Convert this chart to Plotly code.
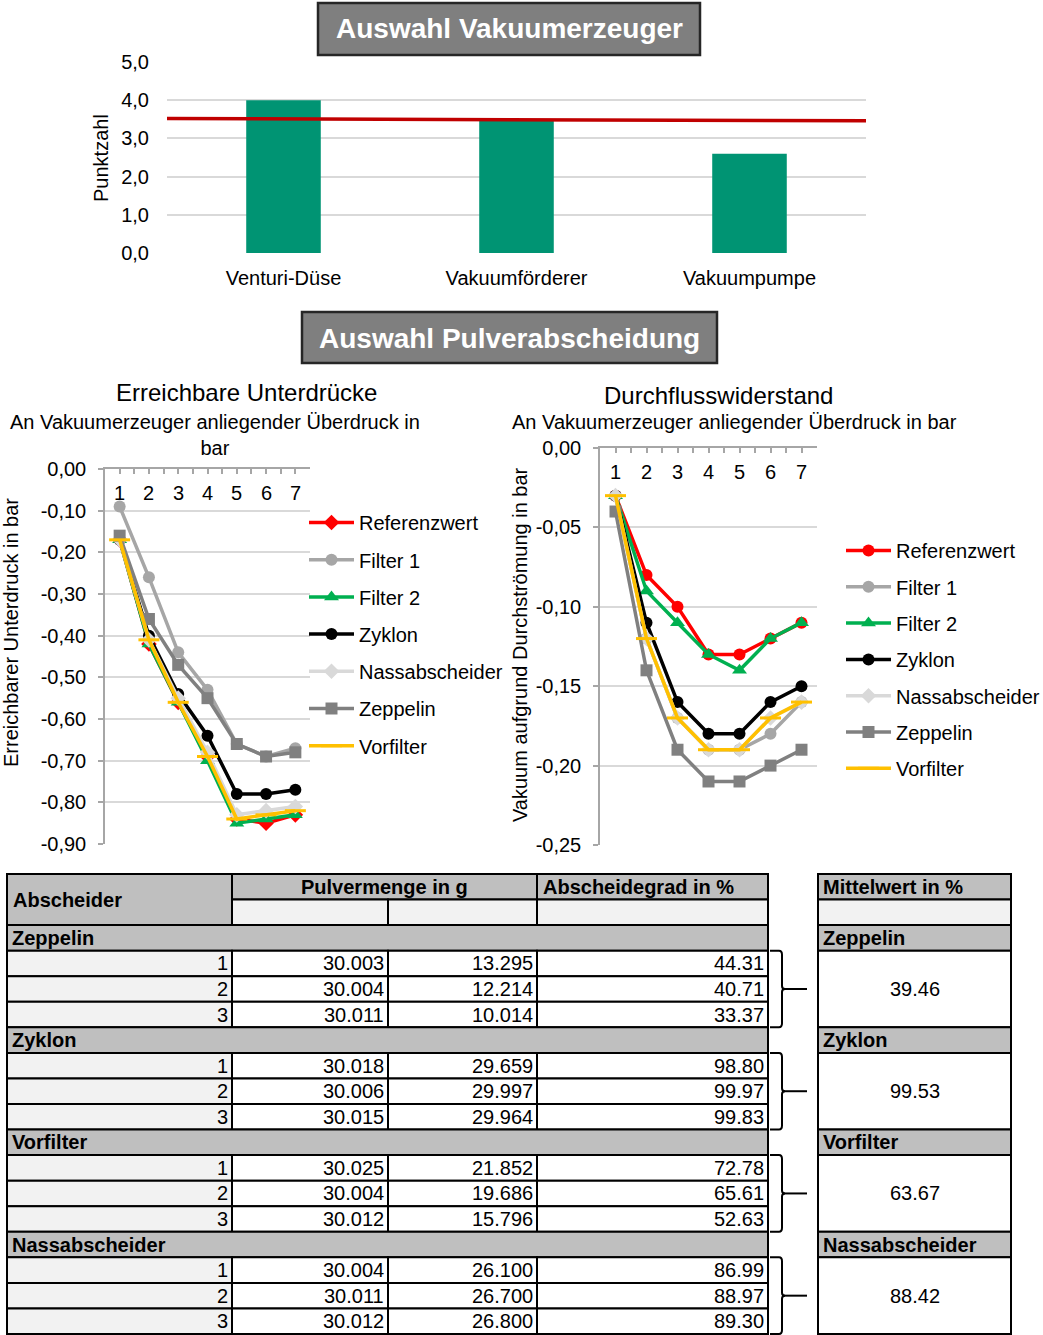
import plotly.graph_objects as go

W, H = 1043, 1335
FONT = "Liberation Sans, Arial, sans-serif"


def px(x):
    return x / W


def py(y):
    return 1 - y / H


# ---------- Auswahl Vakuumerzeuger ----------
erzeuger = ["Venturi-Düse", "Vakuumförderer", "Vakuumpumpe"]
punktzahl = [4.0, 3.5, 2.6]
grenzwert = [3.52, 3.46]

# ---------- Pulverabscheidung: Messstufen ----------
stufen = [1, 2, 3, 4, 5, 6, 7]
serien = ["Referenzwert", "Filter 1", "Filter 2", "Zyklon",
          "Nassabscheider", "Zeppelin", "Vorfilter"]

# Erreichbare Unterdrücke (bar)
ud_referenz = [-0.17, -0.42, -0.56, -0.69, -0.84, -0.85, -0.83]
ud_filter1 = [-0.09, -0.26, -0.44, -0.53, -0.66, -0.69, -0.67]
ud_filter2 = [-0.17, -0.42, -0.56, -0.70, -0.85, -0.84, -0.83]
ud_zyklon = [-0.17, -0.40, -0.54, -0.64, -0.78, -0.78, -0.77]
ud_nass = [-0.17, -0.41, -0.55, -0.68, -0.83, -0.82, -0.81]
ud_zeppelin = [-0.16, -0.36, -0.47, -0.55, -0.66, -0.69, -0.68]
ud_vorfilter = [-0.17, -0.41, -0.56, -0.69, -0.84, -0.83, -0.82]

# Durchflusswiderstand (bar)
dw_referenz = [-0.03, -0.08, -0.10, -0.13, -0.13, -0.12, -0.11]
dw_filter1 = [-0.03, -0.12, -0.17, -0.19, -0.19, -0.18, -0.16]
dw_filter2 = [-0.03, -0.09, -0.11, -0.13, -0.14, -0.12, -0.11]
dw_zyklon = [-0.03, -0.11, -0.16, -0.18, -0.18, -0.16, -0.15]
dw_nass = [-0.03, -0.12, -0.17, -0.19, -0.19, -0.17, -0.16]
dw_zeppelin = [-0.04, -0.14, -0.19, -0.21, -0.21, -0.20, -0.19]
dw_vorfilter = [-0.03, -0.12, -0.17, -0.19, -0.19, -0.17, -0.16]

# ---------- Tabelle Abscheidegrad ----------
abscheider = ["Zeppelin", "Zyklon", "Vorfilter", "Nassabscheider"]
versuch = [1, 2, 3]
pulver_zugabe = [[30.003, 30.004, 30.011],
                 [30.018, 30.006, 30.015],
                 [30.025, 30.004, 30.012],
                 [30.004, 30.011, 30.012]]
pulver_abgeschieden = [[13.295, 12.214, 10.014],
                       [29.659, 29.997, 29.964],
                       [21.852, 19.686, 15.796],
                       [26.100, 26.700, 26.800]]
abscheidegrad = [[44.31, 40.71, 33.37],
                 [98.80, 99.97, 99.83],
                 [72.78, 65.61, 52.63],
                 [86.99, 88.97, 89.30]]
mittelwert = [39.46, 99.53, 63.67, 88.42]

# series styles
farben = {"Referenzwert": "#FF0000", "Filter 1": "#A6A6A6", "Filter 2": "#00B050",
          "Zyklon": "#000000", "Nassabscheider": "#D9D9D9", "Zeppelin": "#808080",
          "Vorfilter": "#FFC000"}
symbole_links = {"Referenzwert": "diamond", "Filter 1": "circle", "Filter 2": "triangle-up",
                 "Zyklon": "circle", "Nassabscheider": "diamond", "Zeppelin": "square",
                 "Vorfilter": "line-ew"}
symbole_rechts = dict(symbole_links, Referenzwert="circle")

werte_links = [ud_referenz, ud_filter1, ud_filter2, ud_zyklon, ud_nass, ud_zeppelin, ud_vorfilter]
werte_rechts = [dw_referenz, dw_filter1, dw_filter2, dw_zyklon, dw_nass, dw_zeppelin, dw_vorfilter]


def komma(v, nd):
    if abs(v) < 1e-12:
        v = 0.0
    return f"{v:.{nd}f}".replace(".", ",")


fig = go.Figure()

# bar chart
fig.add_trace(go.Bar(x=list(range(len(erzeuger))), y=punktzahl, width=0.32,
                     marker=dict(color="#009473", line=dict(width=0)),
                     xaxis="x", yaxis="y", showlegend=False))
fig.add_trace(go.Scatter(x=[-0.5, 2.5], y=grenzwert, mode="lines",
                         line=dict(color="#C00000", width=3.5),
                         xaxis="x", yaxis="y", showlegend=False))


def marker_for(name, symbol):
    c = farben[name]
    if symbol == "line-ew":
        return dict(symbol=symbol, size=15, color=c, line=dict(color=c, width=3))
    size = 12 if symbol != "triangle-up" else 13
    return dict(symbol=symbol, size=size, color=c, line=dict(width=0))


for name, vals in zip(serien, werte_links):
    fig.add_trace(go.Scatter(x=stufen, y=vals, name=name, mode="lines+markers",
                             line=dict(color=farben[name], width=3.5),
                             marker=marker_for(name, symbole_links[name]),
                             xaxis="x2", yaxis="y2", legend="legend",
                             legendgroup="L" + name))

for name, vals in zip(serien, werte_rechts):
    fig.add_trace(go.Scatter(x=stufen, y=vals, name=name, mode="lines+markers",
                             line=dict(color=farben[name], width=3.5),
                             marker=marker_for(name, symbole_rechts[name]),
                             xaxis="x3", yaxis="y3", legend="legend2",
                             legendgroup="R" + name))

axis_grey = "#A6A6A6"
grid_grey = "#D9D9D9"
FS = 20
tick_font = dict(family=FONT, size=FS, color="#000000")

ud_ticks = [round(-0.1 * i, 2) for i in range(10)]
dw_ticks = [round(-0.05 * i, 2) for i in range(6)]
pz_ticks = [0, 1, 2, 3, 4, 5]

line_xaxis = dict(side="top", range=[0.5, 7.5], tickvals=stufen, ticks="inside",
                  ticklen=5, tickcolor=axis_grey, tickwidth=1.5,
                  showline=True, linecolor=axis_grey, linewidth=1.5,
                  showticklabels=False, showgrid=False, zeroline=False,
                  automargin=False,
                  minor=dict(ticks="inside", dtick=0.5, tick0=0.5, ticklen=5,
                             tickcolor=axis_grey, tickwidth=1.5, showgrid=False))

line_yaxis = dict(showgrid=True, gridcolor=grid_grey, gridwidth=1.5, zeroline=False,
                  showline=True, linecolor=axis_grey, linewidth=1.5,
                  ticks="outside", ticklen=5, tickcolor=axis_grey, tickwidth=1.5,
                  tickfont=tick_font, ticklabelstandoff=8, automargin=False)

fig.update_layout(
    width=W, height=H,
    margin=dict(l=0, r=0, t=0, b=0, pad=0, autoexpand=False),
    paper_bgcolor="white", plot_bgcolor="white",
    font=dict(family=FONT, size=FS, color="#000000"),
    xaxis=dict(domain=[px(167), px(866)], range=[-0.5, 2.5],
               tickvals=list(range(len(erzeuger))), ticktext=erzeuger,
               showgrid=False, zeroline=False, showline=False, ticks="",
               tickfont=tick_font, ticklabelstandoff=11, automargin=False),
    yaxis=dict(domain=[py(253), py(62)], range=[0, 5], tickvals=pz_ticks,
               ticktext=[komma(v, 1) for v in pz_ticks], showgrid=True,
               gridcolor=grid_grey, gridwidth=2, zeroline=False, showline=False,
               tickfont=tick_font, ticklabelstandoff=17, automargin=False),
    xaxis2=dict(line_xaxis, domain=[px(105), px(310)], anchor="y2"),
    yaxis2=dict(line_yaxis, domain=[py(844), py(469)], anchor="x2", range=[-0.9, 0],
                tickvals=ud_ticks, ticktext=[komma(v, 2) for v in ud_ticks]),
    xaxis3=dict(line_xaxis, domain=[px(600), px(817)], anchor="y3"),
    yaxis3=dict(line_yaxis, domain=[py(845), py(448)], anchor="x3", range=[-0.25, 0],
                tickvals=dw_ticks, ticktext=[komma(v, 2) for v in dw_ticks]),
    legend=dict(x=px(304), y=py(503), xanchor="left", yanchor="top",
                font=dict(family=FONT, size=FS), bgcolor="rgba(0,0,0,0)",
                traceorder="grouped", tracegroupgap=8.2, itemwidth=45),
    legend2=dict(x=px(841), y=py(531), xanchor="left", yanchor="top",
                 font=dict(family=FONT, size=FS), bgcolor="rgba(0,0,0,0)",
                 traceorder="grouped", tracegroupgap=7.3, itemwidth=45),
)

shapes = []
annotations = []


def rect(x0, y0, x1, y1, fill, lw=2, lc="#000000"):
    shapes.append(dict(type="rect", xref="paper", yref="paper",
                       x0=px(x0), x1=px(x1), y0=py(y1), y1=py(y0),
                       fillcolor=fill, line=dict(color=lc, width=lw), layer="above"))


def text(x, y, s, size=FS, bold=False, anchor="center", color="#000000", angle=0):
    if bold:
        s = "<b>" + s + "</b>"
    annotations.append(dict(xref="paper", yref="paper", x=px(x), y=py(y), text=s,
                            showarrow=False, xanchor=anchor, yanchor="middle",
                            textangle=angle,
                            font=dict(family=FONT, size=size, color=color)))


# category labels of the line charts, placed just below their top axes
for xref, ylab in (("x2", 493), ("x3", 472)):
    for s in stufen:
        annotations.append(dict(xref=xref, yref="paper", x=s, y=py(ylab), text=str(s),
                                showarrow=False, xanchor="center", yanchor="middle",
                                font=dict(family=FONT, size=FS, color="#000000")))

# section title boxes
rect(318, 3, 700, 55, "#7F7F7F", lw=2.5, lc="#262626")
text(509, 29, "Auswahl Vakuumerzeuger", size=28, bold=True, color="white")
rect(302, 312, 717, 363, "#7F7F7F", lw=2.5, lc="#262626")
text(509.5, 338, "Auswahl Pulverabscheidung", size=28, bold=True, color="white")

# chart titles and axis titles
text(101, 158, "Punktzahl", angle=-90)
text(246, 393, "Erreichbare Unterdrücke", size=24)
text(215, 435, "An Vakuumerzeuger anliegender Überdruck in<br>bar")
text(11, 633, "Erreichbarer Unterdruck in bar", angle=-90)
text(718, 395, "Durchflusswiderstand", size=24)
text(734, 422, "An Vakuumerzeuger anliegender Überdruck in bar")
text(520, 645, "Vakuum aufgrund Durchströmung in bar", angle=-90)

# ---------- tables ----------
GRAU = "#BFBFBF"
HELL = "#F2F2F2"
WEISS = "#FFFFFF"
top = 874
h = (1334 - top) / 18
c0, c1, c2, c3, c4 = 7, 232, 388, 537, 768
m0, m1 = 818, 1011

rect(c0, top, c1, top + 2 * h, GRAU)
rect(c1, top, c3, top + h, GRAU)
rect(c3, top, c4, top + h, GRAU)
rect(c1, top + h, c2, top + 2 * h, HELL)
rect(c2, top + h, c3, top + 2 * h, HELL)
rect(c3, top + h, c4, top + 2 * h, HELL)
text(11, top + h, "Abscheider", bold=True, anchor="left")
text((c1 + c3) / 2, top + h / 2, "Pulvermenge in g", bold=True)
text(c3 + 4, top + h / 2, "Abscheidegrad in %", bold=True, anchor="left")

rect(m0, top, m1, top + h, GRAU)
rect(m0, top + h, m1, top + 2 * h, HELL)
text(m0 + 3, top + h / 2, "Mittelwert in %", bold=True, anchor="left")

for g, name in enumerate(abscheider):
    gt = top + 2 * h + g * 4 * h
    rect(c0, gt, c4, gt + h, GRAU)
    text(c0 + 3, gt + h / 2, name, bold=True, anchor="left")
    for i, nr in enumerate(versuch):
        y0 = gt + (i + 1) * h
        rect(c0, y0, c1, y0 + h, HELL)
        rect(c1, y0, c2, y0 + h, WEISS)
        rect(c2, y0, c3, y0 + h, WEISS)
        rect(c3, y0, c4, y0 + h, WEISS)
        yc = y0 + h / 2
        text(c1 - 2, yc, str(nr), anchor="right")
        text(c2 - 2, yc, f"{pulver_zugabe[g][i]:.3f}", anchor="right")
        text(c3 - 2, yc, f"{pulver_abgeschieden[g][i]:.3f}", anchor="right")
        text(c4 - 2, yc, f"{abscheidegrad[g][i]:.2f}", anchor="right")
    # mean value block
    rect(m0, gt, m1, gt + h, GRAU)
    text(m0 + 3, gt + h / 2, name, bold=True, anchor="left")
    rect(m0, gt + h, m1, gt + 4 * h, WEISS)
    text((m0 + m1) / 2, gt + 2.5 * h, f"{mittelwert[g]:.2f}")
    # bracket joining the three runs to their mean
    bt, bb = gt + h, gt + 4 * h
    bm = (bt + bb) / 2
    xa, xv, xt = 770, 782, 807
    path = (f"M{px(xa)},{py(bt)} L{px(xv - 3)},{py(bt)} Q{px(xv)},{py(bt)} {px(xv)},{py(bt + 4)} "
            f"L{px(xv)},{py(bm - 3)} Q{px(xv)},{py(bm)} {px(xv + 3)},{py(bm)} "
            f"Q{px(xv)},{py(bm)} {px(xv)},{py(bm + 3)} "
            f"L{px(xv)},{py(bb - 4)} Q{px(xv)},{py(bb)} {px(xv - 3)},{py(bb)} L{px(xa)},{py(bb)}")
    shapes.append(dict(type="path", xref="paper", yref="paper", path=path,
                       line=dict(color="#000000", width=2)))
    shapes.append(dict(type="line", xref="paper", yref="paper",
                       x0=px(xv), x1=px(xt), y0=py(bm), y1=py(bm),
                       line=dict(color="#000000", width=2)))

fig.update_layout(shapes=shapes, annotations=annotations)

fig.write_html("out.html")
